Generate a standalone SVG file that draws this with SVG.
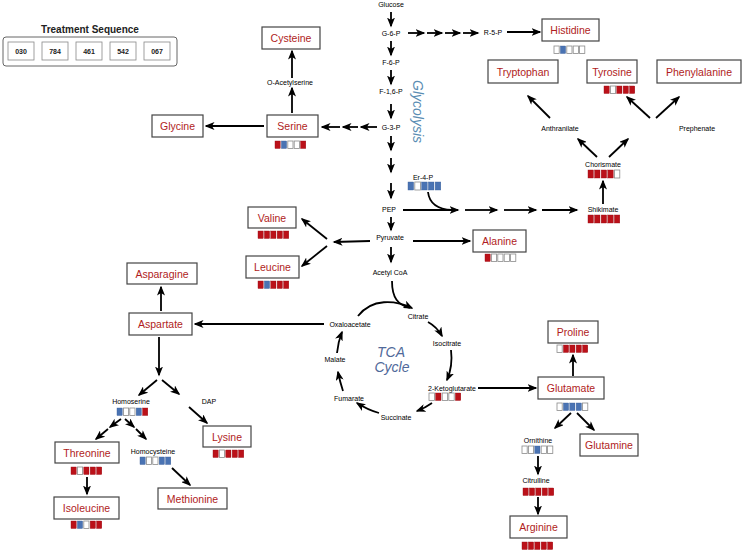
<svg xmlns="http://www.w3.org/2000/svg" width="742" height="551" viewBox="0 0 742 551">
<style>
.bg{fill:#fff}
.box{fill:#fff;stroke:#444;stroke-width:1.2}
.nt{font-family:"Liberation Sans",Arial,sans-serif;font-size:10.5px;fill:#b01c22;text-anchor:middle}
.lb{font-family:"Liberation Sans",Arial,sans-serif;font-size:7px;fill:#000;text-anchor:middle}
.c{fill:none;stroke:#000;stroke-width:1.8;marker-end:url(#ah)}
.cn{fill:none;stroke:#000;stroke-width:1.8}
.r{fill:#bb1119;stroke:#9a0e14;stroke-width:0.4}
.b{fill:#4a73b3;stroke:#3a5f99;stroke-width:0.4}
.e{fill:#fff;stroke:#8a8a8a;stroke-width:0.8}
.ts{fill:#fff;stroke:#666;stroke-width:1}
.tb{fill:#fff;stroke:#888;stroke-width:0.8}
.tt{font-family:"Liberation Sans",Arial,sans-serif;font-size:7px;font-weight:bold;fill:#222;text-anchor:middle}
</style>
<defs>
<marker id="ah" markerUnits="userSpaceOnUse" markerWidth="10" markerHeight="8" refX="8.5" refY="4" orient="auto">
<path d="M0,0 L10,4 L0,8 L2.6,4 z" fill="#000"/>
</marker>
</defs>
<rect class="bg" width="742" height="551"/>

<g id="treatment">
<text x="90" y="33" font-family="Liberation Sans,Arial,sans-serif" font-size="10" font-weight="bold" fill="#222" text-anchor="middle">Treatment Sequence</text>
<rect class="ts" x="3" y="37" width="174" height="29" rx="3"/>
<rect class="tb" x="8" y="42" width="26" height="18"/><text class="tt" x="21" y="53.5">030</text>
<rect class="tb" x="42" y="42" width="26" height="18"/><text class="tt" x="55" y="53.5">784</text>
<rect class="tb" x="76" y="42" width="26" height="18"/><text class="tt" x="89" y="53.5">461</text>
<rect class="tb" x="110" y="42" width="26" height="18"/><text class="tt" x="123" y="53.5">542</text>
<rect class="tb" x="144" y="42" width="26" height="18"/><text class="tt" x="157" y="53.5">067</text>
</g>

<g id="labels">
<text class="lb" x="391" y="7">Glucose</text>
<text class="lb" x="391" y="36">G-6-P</text>
<text class="lb" x="391" y="65">F-6-P</text>
<text class="lb" x="391" y="94">F-1,6-P</text>
<text class="lb" x="391" y="130">G-3-P</text>
<text class="lb" x="389" y="212">PEP</text>
<text class="lb" x="390" y="240">Pyruvate</text>
<text class="lb" x="390" y="275">Acetyl CoA</text>
<text class="lb" x="493" y="35">R-5-P</text>
<text class="lb" x="290" y="85">O-Acetylserine</text>
<text class="lb" x="423" y="180">Er-4-P</text>
<text class="lb" x="603" y="167">Chorismate</text>
<text class="lb" x="603" y="212">Shikimate</text>
<text class="lb" x="560" y="131">Anthranilate</text>
<text class="lb" x="697" y="131">Prephenate</text>
<text class="lb" x="350" y="327">Oxaloacetate</text>
<text class="lb" x="418" y="319">Citrate</text>
<text class="lb" x="447" y="346">Isocitrate</text>
<text class="lb" x="452" y="391">2-Ketoglutarate</text>
<text class="lb" x="396" y="420">Succinate</text>
<text class="lb" x="349" y="401">Fumarate</text>
<text class="lb" x="335" y="362">Malate</text>
<text class="lb" x="538" y="443">Ornithine</text>
<text class="lb" x="536" y="483">Citrulline</text>
<text class="lb" x="131" y="404">Homoserine</text>
<text class="lb" x="209" y="404">DAP</text>
<text class="lb" x="153" y="454">Homocysteine</text>
<text x="413" y="80" transform="rotate(90 413 80)" font-family="Liberation Sans,Arial,sans-serif" font-size="14" font-style="italic" fill="#5a8db3">Glycolysis</text>
<text x="391" y="357" font-family="Liberation Sans,Arial,sans-serif" font-size="14" font-style="italic" fill="#50699a" text-anchor="middle">TCA</text>
<text x="392" y="372" font-family="Liberation Sans,Arial,sans-serif" font-size="14" font-style="italic" fill="#50699a" text-anchor="middle">Cycle</text>
</g>

<g id="histidine"><rect class="box" x="542" y="19" width="57" height="22"/><text class="nt" x="570.5" y="34">Histidine</text>
<rect class="e" x="554" y="46" width="5.2" height="7.5"/><rect class="b" x="560.4" y="46" width="5.2" height="7.5"/><rect class="e" x="566.8" y="46" width="5.2" height="7.5"/><rect class="e" x="573.2" y="46" width="5.2" height="7.5"/><rect class="e" x="579.6" y="46" width="5.2" height="7.5"/></g>

<g id="tryptophan"><rect class="box" x="488" y="60" width="70" height="23"/><text class="nt" x="523" y="75.5">Tryptophan</text></g>

<g id="tyrosine"><rect class="box" x="587" y="60" width="50" height="23"/><text class="nt" x="612" y="75.5">Tyrosine</text>
<rect class="r" x="604" y="86" width="5.2" height="7.5"/><rect class="e" x="610.4" y="86" width="5.2" height="7.5"/><rect class="r" x="616.8" y="86" width="5.2" height="7.5"/><rect class="r" x="623.2" y="86" width="5.2" height="7.5"/><rect class="r" x="629.6" y="86" width="5.2" height="7.5"/></g>

<g id="phenylalanine"><rect class="box" x="657" y="60" width="84" height="23"/><text class="nt" x="699" y="75.5">Phenylalanine</text></g>

<g id="cysteine"><rect class="box" x="262" y="27" width="58" height="22"/><text class="nt" x="291" y="42">Cysteine</text></g>

<g id="serine"><rect class="box" x="267" y="115" width="51" height="22"/><text class="nt" x="292.5" y="130">Serine</text>
<rect class="r" x="275" y="141" width="5.2" height="7.5"/><rect class="b" x="281.4" y="141" width="5.2" height="7.5"/><rect class="e" x="287.8" y="141" width="5.2" height="7.5"/><rect class="e" x="294.2" y="141" width="5.2" height="7.5"/><rect class="r" x="300.6" y="141" width="5.2" height="7.5"/></g>

<g id="glycine"><rect class="box" x="152" y="115" width="51" height="22"/><text class="nt" x="177.5" y="130">Glycine</text></g>

<g id="er4p">
<rect class="b" x="408" y="182" width="5.6" height="8"/><rect class="e" x="414.8" y="182" width="5.6" height="8"/><rect class="b" x="421.6" y="182" width="5.6" height="8"/><rect class="b" x="428.4" y="182" width="5.6" height="8"/><rect class="b" x="435.2" y="182" width="5.6" height="8"/></g>

<g id="chorismate">
<rect class="r" x="588" y="170" width="5.4" height="8"/><rect class="r" x="594.6" y="170" width="5.4" height="8"/><rect class="r" x="601.2" y="170" width="5.4" height="8"/><rect class="r" x="607.8" y="170" width="5.4" height="8"/><rect class="e" x="614.4" y="170" width="5.4" height="8"/></g>

<g id="shikimate">
<rect class="r" x="588" y="215" width="5.4" height="8"/><rect class="r" x="594.6" y="215" width="5.4" height="8"/><rect class="r" x="601.2" y="215" width="5.4" height="8"/><rect class="r" x="607.8" y="215" width="5.4" height="8"/><rect class="r" x="614.4" y="215" width="5.4" height="8"/></g>

<g id="valine"><rect class="box" x="248" y="207" width="48" height="21"/><text class="nt" x="272" y="221.5">Valine</text>
<rect class="r" x="258" y="231" width="5.2" height="7.5"/><rect class="r" x="264.4" y="231" width="5.2" height="7.5"/><rect class="r" x="270.8" y="231" width="5.2" height="7.5"/><rect class="r" x="277.2" y="231" width="5.2" height="7.5"/><rect class="r" x="283.6" y="231" width="5.2" height="7.5"/></g>

<g id="leucine"><rect class="box" x="246" y="256" width="53" height="22"/><text class="nt" x="272.5" y="271">Leucine</text>
<rect class="r" x="258" y="281" width="5.2" height="7.5"/><rect class="b" x="264.4" y="281" width="5.2" height="7.5"/><rect class="r" x="270.8" y="281" width="5.2" height="7.5"/><rect class="r" x="277.2" y="281" width="5.2" height="7.5"/><rect class="r" x="283.6" y="281" width="5.2" height="7.5"/></g>

<g id="alanine"><rect class="box" x="473" y="230" width="53" height="22"/><text class="nt" x="499.5" y="245">Alanine</text>
<rect class="r" x="485" y="254" width="5.2" height="7.5"/><rect class="e" x="491.4" y="254" width="5.2" height="7.5"/><rect class="e" x="497.8" y="254" width="5.2" height="7.5"/><rect class="e" x="504.2" y="254" width="5.2" height="7.5"/><rect class="e" x="510.6" y="254" width="5.2" height="7.5"/></g>

<g id="asparagine"><rect class="box" x="127" y="263" width="70" height="21"/><text class="nt" x="162" y="277.5">Asparagine</text></g>

<g id="aspartate"><rect class="box" x="129" y="313" width="63" height="22"/><text class="nt" x="160.5" y="328">Aspartate</text></g>

<g id="ketoglutarate">
<rect class="e" x="429" y="393" width="5.4" height="7.5"/><rect class="r" x="435.6" y="393" width="5.4" height="7.5"/><rect class="e" x="442.2" y="393" width="5.4" height="7.5"/><rect class="e" x="448.8" y="393" width="5.4" height="7.5"/><rect class="r" x="455.4" y="393" width="5.4" height="7.5"/></g>

<g id="proline"><rect class="box" x="548" y="321" width="50" height="22"/><text class="nt" x="573" y="336">Proline</text>
<rect class="e" x="557" y="345" width="5.2" height="7.5"/><rect class="r" x="563.4" y="345" width="5.2" height="7.5"/><rect class="r" x="569.8" y="345" width="5.2" height="7.5"/><rect class="r" x="576.2" y="345" width="5.2" height="7.5"/><rect class="r" x="582.6" y="345" width="5.2" height="7.5"/></g>

<g id="glutamate"><rect class="box" x="538" y="377" width="66" height="22"/><text class="nt" x="571" y="392">Glutamate</text>
<rect class="e" x="557" y="403" width="5.2" height="7.5"/><rect class="b" x="563.4" y="403" width="5.2" height="7.5"/><rect class="b" x="569.8" y="403" width="5.2" height="7.5"/><rect class="b" x="576.2" y="403" width="5.2" height="7.5"/><rect class="e" x="582.6" y="403" width="5.2" height="7.5"/></g>

<g id="glutamine"><rect class="box" x="580" y="434" width="58" height="22"/><text class="nt" x="609" y="449">Glutamine</text></g>

<g id="ornithine">
<rect class="e" x="522" y="446" width="5.2" height="7.5"/><rect class="e" x="528.4" y="446" width="5.2" height="7.5"/><rect class="b" x="534.8" y="446" width="5.2" height="7.5"/><rect class="e" x="541.2" y="446" width="5.2" height="7.5"/><rect class="e" x="547.6" y="446" width="5.2" height="7.5"/></g>

<g id="citrulline">
<rect class="r" x="523" y="488" width="5.2" height="7.5"/><rect class="r" x="529.4" y="488" width="5.2" height="7.5"/><rect class="r" x="535.8" y="488" width="5.2" height="7.5"/><rect class="r" x="542.2" y="488" width="5.2" height="7.5"/><rect class="r" x="548.6" y="488" width="5.2" height="7.5"/></g>

<g id="arginine"><rect class="box" x="510" y="516" width="57" height="22"/><text class="nt" x="538.5" y="531">Arginine</text>
<rect class="r" x="522" y="542" width="5.2" height="7.5"/><rect class="r" x="528.4" y="542" width="5.2" height="7.5"/><rect class="r" x="534.8" y="542" width="5.2" height="7.5"/><rect class="r" x="541.2" y="542" width="5.2" height="7.5"/><rect class="r" x="547.6" y="542" width="5.2" height="7.5"/></g>

<g id="homoserine">
<rect class="b" x="117" y="408" width="5.2" height="7.5"/><rect class="e" x="123.4" y="408" width="5.2" height="7.5"/><rect class="e" x="129.8" y="408" width="5.2" height="7.5"/><rect class="b" x="136.2" y="408" width="5.2" height="7.5"/><rect class="r" x="142.6" y="408" width="5.2" height="7.5"/></g>

<g id="lysine"><rect class="box" x="203" y="426" width="48" height="21"/><text class="nt" x="227" y="440.5">Lysine</text>
<rect class="r" x="213" y="450" width="5.2" height="7.5"/><rect class="e" x="219.4" y="450" width="5.2" height="7.5"/><rect class="r" x="225.8" y="450" width="5.2" height="7.5"/><rect class="r" x="232.2" y="450" width="5.2" height="7.5"/><rect class="r" x="238.6" y="450" width="5.2" height="7.5"/></g>

<g id="threonine"><rect class="box" x="55" y="442" width="64" height="21"/><text class="nt" x="87" y="456.5">Threonine</text>
<rect class="r" x="71" y="467" width="5.2" height="7.5"/><rect class="e" x="77.4" y="467" width="5.2" height="7.5"/><rect class="r" x="83.8" y="467" width="5.2" height="7.5"/><rect class="r" x="90.2" y="467" width="5.2" height="7.5"/><rect class="r" x="96.6" y="467" width="5.2" height="7.5"/></g>

<g id="homocysteine">
<rect class="b" x="140" y="457" width="5.2" height="7.5"/><rect class="e" x="146.4" y="457" width="5.2" height="7.5"/><rect class="e" x="152.8" y="457" width="5.2" height="7.5"/><rect class="b" x="159.2" y="457" width="5.2" height="7.5"/><rect class="b" x="165.6" y="457" width="5.2" height="7.5"/></g>

<g id="isoleucine"><rect class="box" x="54" y="497" width="65" height="22"/><text class="nt" x="86.5" y="512">Isoleucine</text>
<rect class="r" x="71" y="521" width="5.2" height="7.5"/><rect class="b" x="77.4" y="521" width="5.2" height="7.5"/><rect class="e" x="83.8" y="521" width="5.2" height="7.5"/><rect class="r" x="90.2" y="521" width="5.2" height="7.5"/><rect class="r" x="96.6" y="521" width="5.2" height="7.5"/></g>

<g id="methionine"><rect class="box" x="158" y="488" width="69" height="21"/><text class="nt" x="192.5" y="502.5">Methionine</text></g>

<g id="connectors">
<path class="c" d="M391,12 L391,26"/>
<path class="c" d="M391,41 L391,55"/>
<path class="c" d="M391,70 L391,84"/>
<path class="c" d="M391,104 L391,118"/>
<path class="c" d="M391,136 L391,150"/>
<path class="c" d="M391,158 L391,172"/>
<path class="c" d="M391,183 L391,198"/>
<path class="c" d="M391,217 L391,230"/>
<path class="c" d="M391,247 L391,262"/>
<path class="c" d="M408,33 L424,33"/>
<path class="c" d="M427,33 L442,33"/>
<path class="c" d="M445,33 L460,33"/>
<path class="c" d="M463,33 L478,33"/>
<path class="c" d="M507,32 L540,32"/>
<path class="c" d="M377,127 L361,127"/>
<path class="c" d="M358,127 L343,127"/>
<path class="c" d="M340,127 L322,127"/>
<path class="c" d="M264,126 L206,126"/>
<path class="c" d="M292,113 L292,88"/>
<path class="c" d="M292,78 L292,51"/>
<path class="c" d="M403,210 L458,210"/>
<path class="cn" d="M428,192 Q430,209 452,210"/>
<path class="c" d="M465,210 L497,210"/>
<path class="c" d="M504,210 L536,210"/>
<path class="c" d="M542,210 L577,210"/>
<path class="c" d="M603,204 L603,181"/>
<path class="c" d="M597,157 L578,139"/>
<path class="c" d="M609,157 L628,139"/>
<path class="c" d="M550,118 L528,96"/>
<path class="c" d="M650,118 L627,97"/>
<path class="c" d="M656,118 L679,97"/>
<path class="c" d="M370,241 L334,242"/>
<path class="c" d="M327,239 L302,219"/>
<path class="c" d="M327,246 L302,266"/>
<path class="c" d="M413,241 L470,241"/>
<path class="cn" d="M392,281 C392,298 398,305 410,308"/>
<path class="c" d="M358,316 C372,298 395,300 412,308"/>
<path class="c" d="M324,324 L195,324"/>
<path class="c" d="M161,311 L161,287"/>
<path class="c" d="M159,337 L159,375"/>
<path class="c" d="M157,380 L139,395"/>
<path class="c" d="M162,380 L179,394"/>
<path class="c" d="M189,407 L207,423"/>
<path class="c" d="M121,419 L110,427"/>
<path class="c" d="M108,429 L96,439"/>
<path class="c" d="M125,419 L134,427"/>
<path class="c" d="M136,429 L146,439"/>
<path class="c" d="M172,468 L190,485"/>
<path class="c" d="M87,477 L87,494"/>
<path class="c" d="M428,322 Q437,327 442,336"/>
<path class="c" d="M451,350 Q453,366 447,380"/>
<path class="c" d="M432,403 Q425,408 417,411"/>
<path class="c" d="M379,413 Q368,410 357,403"/>
<path class="c" d="M343,391 Q340,382 338,372"/>
<path class="c" d="M337,353 Q338,342 342,332"/>
<path class="c" d="M478,388 L536,388"/>
<path class="c" d="M573,376 L573,355"/>
<path class="c" d="M571,413 L555,428"/>
<path class="c" d="M577,413 L594,430"/>
<path class="c" d="M538,456 L538,474"/>
<path class="c" d="M538,497 L538,514"/>
</g>
</svg>
